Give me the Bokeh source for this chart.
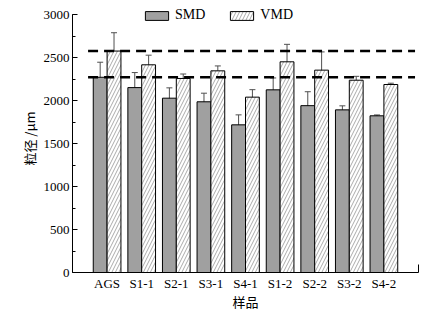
from bokeh.plotting import figure
from bokeh.models import (ColumnDataSource, Whisker, TeeHead, Legend, LegendItem,
                          FixedTicker, SingleIntervalTicker, Range1d)
from bokeh.embed import file_html
from bokeh.resources import INLINE

categories = ["AGS", "S1-1", "S2-1", "S3-1", "S4-1", "S1-2", "S2-2", "S3-2", "S4-2"]
smd = [2270, 2150, 2027, 1985, 1717, 2124, 1940, 1891, 1822]
smd_err = [175, 175, 120, 100, 116, 138, 162, 47, 10]
vmd = [2575, 2415, 2256, 2345, 2039, 2450, 2353, 2236, 2186]
vmd_err = [213, 112, 52, 57, 87, 203, 212, 45, 15]
y_axis_max = 3000
ref_line_x = [0.45, 9.9]

xs = list(range(1, len(categories) + 1))
s_smd = ColumnDataSource(dict(x=[v - 0.2 for v in xs], top=smd,
                              lo=[a - b for a, b in zip(smd, smd_err)],
                              hi=[a + b for a, b in zip(smd, smd_err)]))
s_vmd = ColumnDataSource(dict(x=[v + 0.2 for v in xs], top=vmd,
                              lo=[a - b for a, b in zip(vmd, vmd_err)],
                              hi=[a + b for a, b in zip(vmd, vmd_err)]))

axis_px = 258      # pixel height of the 0..3000 axis
frame_h = 268      # frame extends 10px above the axis end so the legend is not clipped
p = figure(frame_width=346, frame_height=frame_h, output_backend="svg", toolbar_location=None,
           x_range=Range1d(0, len(categories) + 1),
           y_range=Range1d(0, y_axis_max * frame_h / axis_px))
p.min_border_left = 72
p.min_border_right = 25
p.min_border_top = 4
p.min_border_bottom = 44
p.outline_line_color = None
p.grid.visible = False
p.background_fill_color = "white"
p.border_fill_color = "white"

r1 = p.vbar(x="x", top="top", width=0.4, source=s_smd, fill_color="#a0a0a0",
            line_color="black", line_width=1)
r2 = p.vbar(x="x", top="top", width=0.4, source=s_vmd, fill_color="white",
            line_color="black", line_width=1, hatch_pattern="/",
            hatch_color="#707070", hatch_scale=7, hatch_weight=0.6)

for src in (s_smd, s_vmd):
    w = Whisker(base="x", lower="lo", upper="hi", source=src,
                line_color="#505050", line_width=1,
                upper_head=TeeHead(size=6, line_color="#505050", line_width=1),
                lower_head=TeeHead(size=6, line_color="#505050", line_width=1))
    p.add_layout(w)

for yv in (smd[0], vmd[0]):
    p.line(x=ref_line_x, y=[yv, yv], line_color="black", line_width=2.5,
           line_dash="10 6")

serif = "Liberation Serif"
cjk = "Noto Sans CJK SC"

p.xaxis.ticker = FixedTicker(ticks=xs, minor_ticks=[len(categories) + 1])
p.xaxis.major_label_overrides = {x: c for x, c in zip(xs, categories)}
p.xaxis.major_tick_in = 0
p.xaxis.major_tick_out = 0
p.xaxis.minor_tick_in = 8
p.xaxis.minor_tick_out = 0
p.xaxis.major_label_standoff = 3
p.xaxis.axis_label = "样品"
p.xaxis.axis_label_standoff = -2

p.yaxis.ticker = SingleIntervalTicker(interval=500, num_minor_ticks=2)
p.yaxis.bounds = (0, y_axis_max)
p.yaxis.major_tick_in = 5
p.yaxis.major_tick_out = 0
p.yaxis.minor_tick_in = 3
p.yaxis.minor_tick_out = 0
p.yaxis.major_label_standoff = 3
p.yaxis.axis_label = "粒径 /μm"
p.yaxis.axis_label_standoff = 2

for ax in (p.xaxis[0], p.yaxis[0]):
    ax.axis_line_color = "black"
    ax.axis_line_width = 1
    ax.major_tick_line_color = "black"
    ax.minor_tick_line_color = "black"
    ax.major_label_text_font = serif
    ax.major_label_text_font_size = "13px"
    ax.major_label_text_color = "black"
    ax.axis_label_text_font = cjk
    ax.axis_label_text_font_size = "13px"
    ax.axis_label_text_font_style = "normal"
    ax.axis_label_text_color = "black"

legend = Legend(items=[LegendItem(label="SMD", renderers=[r1]),
                       LegendItem(label="VMD", renderers=[r2])],
                orientation="horizontal", location=(70, 249))
legend.glyph_width = 29
legend.glyph_height = 11
legend.label_height = 13
legend.label_standoff = 4
legend.spacing = 22
legend.padding = 0
legend.margin = 0
legend.border_line_color = None
legend.background_fill_alpha = 0
legend.label_text_font = serif
legend.label_text_font_size = "14px"
legend.label_text_color = "black"
p.add_layout(legend, "center")

open("out.html", "w").write(file_html(p, INLINE))
